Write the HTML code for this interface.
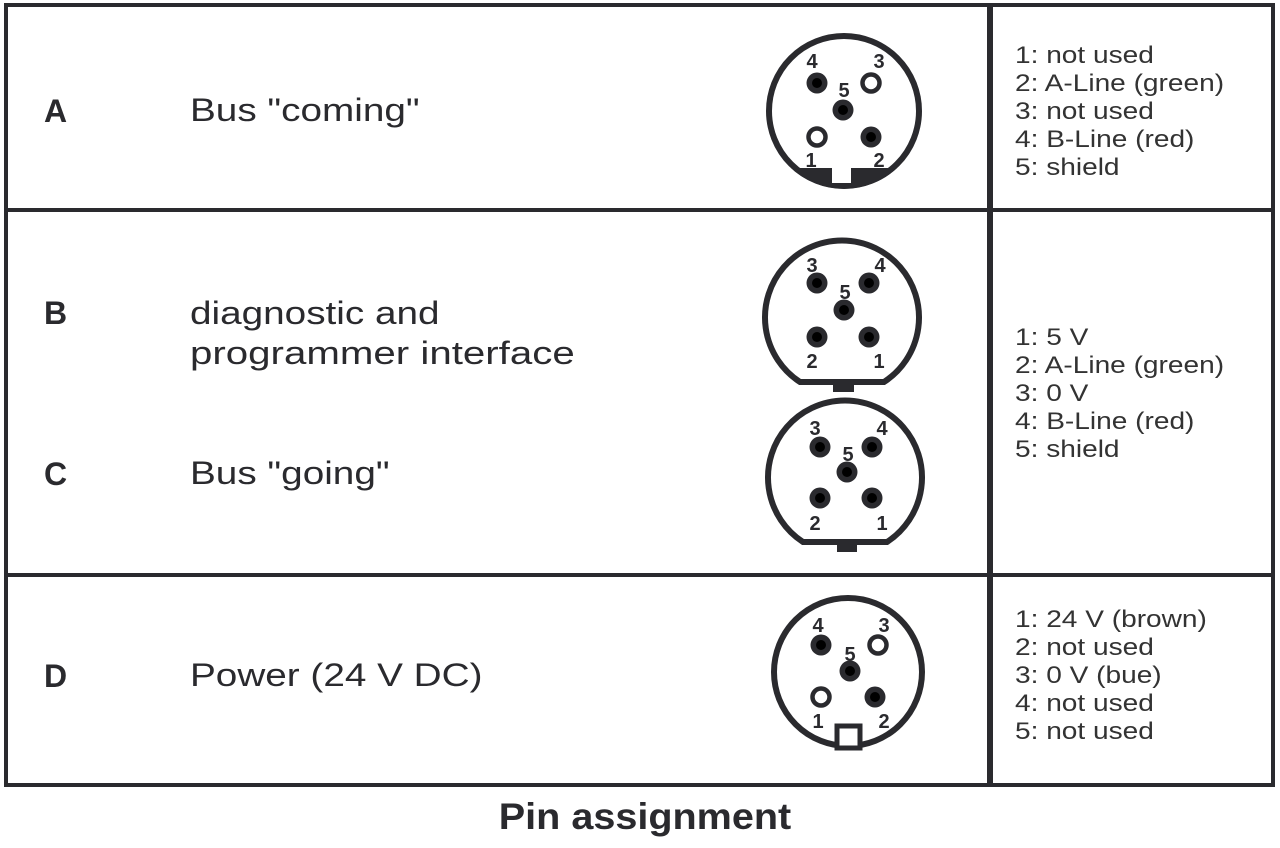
<!DOCTYPE html>
<html><head><meta charset="utf-8"><style>
html,body{margin:0;padding:0;background:#fff;width:1280px;height:848px;overflow:hidden}
svg{display:block}
</style></head><body>
<svg width="1280" height="848" viewBox="0 0 1280 848" xmlns="http://www.w3.org/2000/svg">
<defs>
<g id="pf"><circle r="10.5" fill="#2a2a2e"/><circle r="5" fill="#000"/></g>
<g id="ph"><circle r="8.5" fill="#fff" stroke="#2a2a2e" stroke-width="4.5"/></g>
</defs>
<g fill="none" stroke="#2a2a2e">
<rect x="6" y="5" width="1267" height="780" stroke-width="4"/>
<line x1="990" y1="3" x2="990" y2="787" stroke-width="6"/>
<line x1="6" y1="210" x2="1273" y2="210" stroke-width="4"/>
<line x1="6" y1="575" x2="1273" y2="575" stroke-width="4"/>
</g>
<g font-family="Liberation Sans, sans-serif" fill="#2a2a2e">
<g font-weight="bold" font-size="32">
<text x="44" y="122">A</text>
<text x="44" y="324">B</text>
<text x="44" y="485">C</text>
<text x="44" y="687">D</text>
</g>
<g font-size="32" transform="translate(190 0) scale(1.21 1) translate(-190 0)">
<text x="190" y="121">Bus "coming"</text>
<text x="190" y="324">diagnostic and</text>
<text x="190" y="364" textLength="318" lengthAdjust="spacingAndGlyphs">programmer interface</text>
<text x="190" y="484">Bus "going"</text>
<text x="190" y="686">Power (24 V DC)</text>
</g>
<g font-size="24" fill="#333" transform="translate(1015 0) scale(1.17 1) translate(-1015 0)">
<text x="1015" y="63">1: not used</text>
<text x="1015" y="91">2: A-Line (green)</text>
<text x="1015" y="119">3: not used</text>
<text x="1015" y="147">4: B-Line (red)</text>
<text x="1015" y="175">5: shield</text>
<text x="1015" y="345">1: 5 V</text>
<text x="1015" y="373">2: A-Line (green)</text>
<text x="1015" y="401">3: 0 V</text>
<text x="1015" y="429">4: B-Line (red)</text>
<text x="1015" y="457">5: shield</text>
<text x="1015" y="627">1: 24 V (brown)</text>
<text x="1015" y="655">2: not used</text>
<text x="1015" y="683">3: 0 V (bue)</text>
<text x="1015" y="711">4: not used</text>
<text x="1015" y="739">5: not used</text>
</g>
<text x="645" y="829" text-anchor="middle" font-weight="bold" font-size="37" transform="translate(645 0) scale(1.07 1) translate(-645 0)">Pin assignment</text>
</g>

<!-- Connector A -->
<g>
<circle cx="844" cy="111" r="75" fill="#fff" stroke="#2a2a2e" stroke-width="6"/>
<path d="M791 168 L897 168 A78 78 0 0 1 791 168 Z" fill="#2a2a2e"/>
<rect x="832" y="166" width="19" height="17" fill="#fff"/>
<use href="#pf" x="817" y="83"/><use href="#ph" x="871" y="83"/>
<use href="#pf" x="843" y="110"/><use href="#ph" x="817" y="137"/><use href="#pf" x="871" y="137"/>
<g font-family="Liberation Sans, sans-serif" font-weight="bold" font-size="20" fill="#2a2a2e" text-anchor="middle">
<text x="812" y="68">4</text><text x="879" y="68">3</text><text x="844" y="97">5</text>
<text x="811" y="167">1</text><text x="879" y="167">2</text>
</g>
</g>

<!-- Connector B -->
<g>
<path d="M800 382 A77 77 0 1 1 884 382 Z" fill="#fff" stroke="#2a2a2e" stroke-width="6"/>
<rect x="833" y="382" width="21" height="10" fill="#2a2a2e"/>
<use href="#pf" x="817" y="283"/><use href="#pf" x="869" y="283"/>
<use href="#pf" x="844" y="310"/><use href="#pf" x="817" y="337"/><use href="#pf" x="869" y="337"/>
<g font-family="Liberation Sans, sans-serif" font-weight="bold" font-size="20" fill="#2a2a2e" text-anchor="middle">
<text x="812" y="272">3</text><text x="880" y="272">4</text><text x="845" y="299">5</text>
<text x="812" y="368">2</text><text x="879" y="368">1</text>
</g>
</g>

<!-- Connector C -->
<g>
<path d="M803 542 A77 77 0 1 1 887 542 Z" fill="#fff" stroke="#2a2a2e" stroke-width="6"/>
<rect x="837" y="542" width="20" height="10" fill="#2a2a2e"/>
<use href="#pf" x="820" y="447"/><use href="#pf" x="872" y="447"/>
<use href="#pf" x="847" y="472"/><use href="#pf" x="820" y="498"/><use href="#pf" x="872" y="498"/>
<g font-family="Liberation Sans, sans-serif" font-weight="bold" font-size="20" fill="#2a2a2e" text-anchor="middle">
<text x="815" y="435">3</text><text x="882" y="435">4</text><text x="848" y="461">5</text>
<text x="815" y="530">2</text><text x="882" y="530">1</text>
</g>
</g>

<!-- Connector D -->
<g>
<circle cx="848" cy="672" r="74" fill="#fff" stroke="#2a2a2e" stroke-width="6"/>
<rect x="837" y="726" width="23" height="22" fill="#fff" stroke="#2a2a2e" stroke-width="5"/>
<use href="#pf" x="821" y="645"/><use href="#ph" x="878" y="645"/>
<use href="#pf" x="850" y="671"/><use href="#ph" x="821" y="697"/><use href="#pf" x="875" y="697"/>
<g font-family="Liberation Sans, sans-serif" font-weight="bold" font-size="20" fill="#2a2a2e" text-anchor="middle">
<text x="818" y="632">4</text><text x="884" y="632">3</text><text x="850" y="661">5</text>
<text x="818" y="728">1</text><text x="884" y="728">2</text>
</g>
</g>
</svg>
</body></html>
